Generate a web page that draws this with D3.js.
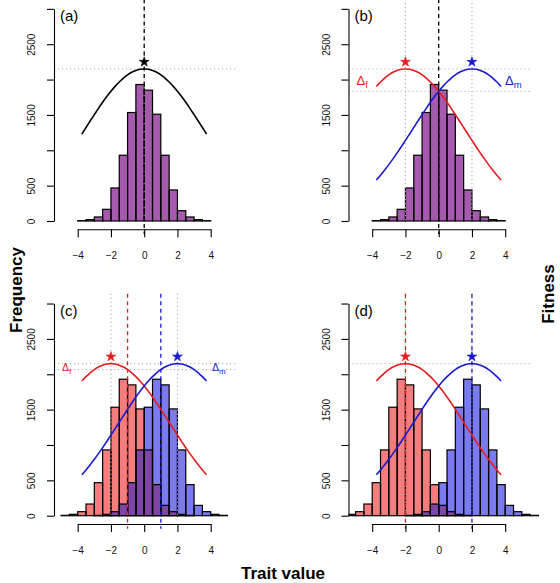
<!DOCTYPE html>
<html><head><meta charset="utf-8">
<script src="https://cdn.jsdelivr.net/npm/d3@7"></script>
<style>
body{margin:0;background:#fff}
svg{display:block}
text{font-family:"Liberation Sans",Arial,Helvetica,sans-serif}
</style>
</head><body><svg id="chart" width="560" height="583"></svg>
<script>
// ---------- data ----------
const binLeftEdges = [-4,-3.5,-3,-2.5,-2,-1.5,-1,-0.5,0,0.5,1,1.5,2,2.5,3,3.5];
const binWidth = 0.5;
const baseFrequency = [5,19,57,165,467,930,1534,1930,1850,1510,930,439,146,57,19,5];
const panelLabels = ["(a)","(b)","(c)","(d)"];
const femaleMean = [0,0,-1,-2];
const maleMean = [0,0,1,2];
const femaleOptimum = [0,-2,-2,-2];
const maleOptimum = [0,2,2,2];
const fitnessDistance = [0,0.25,0.5,0.75,1,1.25,1.5,1.75,2,2.25,2.5,2.75,3,3.25,3.5,3.75,4,4.25,4.5,4.75,5,5.25,5.5,5.75];
const fitnessProfile = [2150,2145,2129,2103,2066,2021,1966,1904,1834,1759,1678,1593,1504,1414,1322,1231,1140,1050,963,878,797,720,647,579];
const curveTrait = [-3.75,-3.5,-3.25,-3,-2.75,-2.5,-2.25,-2,-1.75,-1.5,-1.25,-1,-0.75,-0.5,-0.25,0,0.25,0.5,0.75,1,1.25,1.5,1.75,2,2.25,2.5,2.75,3,3.25,3.5,3.75];
const xTickValues = [-4,-2,0,2,4];
const yTickValues = [0,500,1000,1500,2000,2500,3000];
const yTickLabels = ["0","500","","1500","","2500",""];
const deltaSymbol = "\u0394";
const deltaSubs = [null, ["f","m"], ["f","m"], null];

// ---------- style ----------
const RED = "#e41e20", BLUE = "#1a1ad0";
const SINGLE_FILL = "#a65aae", FEMALE_FILL = "#f47e7e", MALE_FILL = "#7b7bef", OVERLAP_FILL = "#7d45a6";
const GUIDE = "#aaaaaa";

const svg = d3.select("#chart");

function fitnessAt(x, opt){
  const d = Math.abs(x - opt);
  const i = fitnessDistance.indexOf(Math.round(d*4)/4);
  return fitnessProfile[i];
}

for (let p = 0; p < 4; p++) {
  const col = p % 2, row = Math.floor(p / 2);
  const ox = col * 294.5, oy = row * 294.7;
  const x = d3.scaleLinear([-4, 4], [77.7 + ox, 210.7 + ox]);
  const y = d3.scaleLinear([0, 3000], [221 + oy, 8.84 + oy]);
  const axisX = 54 + ox;
  const g = svg.append("g");

  const clipId = "clip" + p;
  g.append("clipPath").attr("id", clipId).append("rect")
    .attr("x", axisX).attr("y", oy).attr("width", 250).attr("height", 290);

  const sameMean = femaleMean[p] === maleMean[p];
  const sameOpt = femaleOptimum[p] === maleOptimum[p];
  const shiftStep = Math.round((femaleMean[p] - maleMean[p]) / binWidth);

  const hVals = [fitnessProfile[0]];
  const dist = Math.abs(femaleMean[p] - femaleOptimum[p]);
  if (dist > 0) hVals.push(fitnessAt(femaleMean[p], femaleOptimum[p]));

  const bars = g.append("g").attr("clip-path", `url(#${clipId})`);
  function histFill(shift, fill) {
    bars.append("g").selectAll("rect").data(baseFrequency).join("rect")
      .attr("x", (d, i) => x(binLeftEdges[i] + shift))
      .attr("width", (d, i) => x(binLeftEdges[i] + shift + binWidth) - x(binLeftEdges[i] + shift))
      .attr("y", d => y(d)).attr("height", d => y(0) - y(d))
      .attr("fill", fill);
  }
  function histOutline(shift) {
    bars.append("g").selectAll("rect").data(baseFrequency).join("rect")
      .attr("x", (d, i) => x(binLeftEdges[i] + shift))
      .attr("width", (d, i) => x(binLeftEdges[i] + shift + binWidth) - x(binLeftEdges[i] + shift))
      .attr("y", d => y(d)).attr("height", d => y(0) - y(d))
      .attr("fill", "none").attr("stroke", "#000").attr("stroke-width", 1.2);
  }
  if (sameMean) {
    histFill(femaleMean[p], SINGLE_FILL);
    histOutline(femaleMean[p]);
  } else {
    histFill(femaleMean[p], FEMALE_FILL);
    histFill(maleMean[p], MALE_FILL);
    const ov = (d, i) => { const j = i + shiftStep; return (j >= 0 && j < baseFrequency.length) ? Math.min(d, baseFrequency[j]) : 0; };
    bars.append("g").selectAll("rect").data(baseFrequency).join("rect")
      .attr("x", (d, i) => x(binLeftEdges[i] + femaleMean[p]))
      .attr("width", (d, i) => x(binLeftEdges[i] + femaleMean[p] + binWidth) - x(binLeftEdges[i] + femaleMean[p]))
      .attr("y", (d, i) => y(ov(d, i)))
      .attr("height", (d, i) => y(0) - y(ov(d, i)))
      .attr("fill", OVERLAP_FILL);
    histOutline(femaleMean[p]);
    histOutline(maleMean[p]);
  }

  // horizontal guides
  g.selectAll(null).data(hVals).join("line")
    .attr("x1", axisX).attr("x2", x(5.5))
    .attr("y1", d => y(d)).attr("y2", d => y(d))
    .attr("stroke", GUIDE).attr("stroke-width", 1).attr("stroke-dasharray", "1.2,2.8");

  // vertical guides at optima
  const optima = Array.from(new Set([femaleOptimum[p], maleOptimum[p]]));
  const topY = oy - 1, botY = 221 + oy + 13;
  g.selectAll(null).data(optima).join("line")
    .attr("x1", d => x(d)).attr("x2", d => x(d))
    .attr("y1", topY).attr("y2", 221 + oy)
    .attr("stroke", GUIDE).attr("stroke-width", 1).attr("stroke-dasharray", "1.2,2.8");

  // dashed mean lines
  const means = sameMean ? [{v: femaleMean[p], c: "#000"}] : [{v: femaleMean[p], c: RED}, {v: maleMean[p], c: BLUE}];
  g.selectAll(null).data(means).join("line")
    .attr("x1", d => x(d.v)).attr("x2", d => x(d.v))
    .attr("y1", topY).attr("y2", botY)
    .attr("stroke", d => d.c).attr("stroke-width", 1.3).attr("stroke-dasharray", "4,3.5");

  // fitness curves
  const curves = sameOpt ? [{opt: femaleOptimum[p], c: "#000"}] : [{opt: femaleOptimum[p], c: RED}, {opt: maleOptimum[p], c: BLUE}];
  const line = d3.line().curve(d3.curveCatmullRom);
  curves.forEach(cv => {
    g.append("path")
      .attr("d", line(curveTrait.map(t => [x(t), y(fitnessAt(t, cv.opt))])))
      .attr("fill", "none").attr("stroke", cv.c).attr("stroke-width", 1.6);
    g.append("path")
      .attr("d", d3.symbol(d3.symbolStar, 30)())
      .attr("transform", `translate(${x(cv.opt)},${y(fitnessProfile[0]) - 7})`)
      .attr("fill", cv.c).attr("stroke", cv.c).attr("stroke-width", 0.6);
  });

  // delta labels
  if (deltaSubs[p]) {
    const big = row === 0;
    const fs = big ? 13 : 10.5, sfs = big ? 9.5 : 8;
    const by = big ? 221 + oy - 136 : 221 + oy - 144.5;
    const tf = g.append("text").attr("x", axisX + 8).attr("y", by).attr("fill", RED).attr("font-size", fs);
    tf.append("tspan").text(deltaSymbol);
    tf.append("tspan").attr("dy", 3).attr("font-size", sfs).text(deltaSubs[p][0]);
    const tm = g.append("text").attr("x", x(3.75) + (big ? 4 : 5.5)).attr("y", by).attr("fill", BLUE).attr("font-size", fs);
    tm.append("tspan").text(deltaSymbol);
    tm.append("tspan").attr("dy", 3).attr("font-size", sfs).text(deltaSubs[p][1]);
  }

  // panel label
  g.append("text").attr("x", 60 + ox).attr("y", 21 + oy).attr("font-size", 15).text(panelLabels[p]);

  // axes
  const ya = g.append("g").attr("transform", `translate(${axisX},0)`)
    .call(d3.axisLeft(y).tickValues(yTickValues).tickSize(7).tickSizeOuter(0).tickFormat((d, i) => yTickLabels[i]));
  ya.selectAll("text").attr("x", null).attr("dy", null).attr("text-anchor", "middle")
    .attr("transform", "translate(-19,0) rotate(-90)")
    .attr("font-size", 10).attr("font-family", "Liberation Sans, Arial, sans-serif").attr("fill", "#111");
  ya.attr("font-family", null);
  ya.selectAll("path,line").attr("stroke-width", 1.1);

  const xa = g.append("g").attr("transform", `translate(0,${221 + oy + 8.3})`)
    .call(d3.axisBottom(x).tickValues(xTickValues).tickSize(8).tickSizeOuter(0)
      .tickFormat(d => d < 0 ? "\u2212" + Math.abs(d) : String(d)));
  xa.selectAll("text").attr("y", 23).attr("font-size", 10).attr("font-family", "Liberation Sans, Arial, sans-serif").attr("fill", "#111");
  xa.attr("font-family", null);
  xa.selectAll("path,line").attr("stroke-width", 1.1);
}

// titles
svg.append("text").attr("transform", "translate(22,290) rotate(-90)").attr("text-anchor", "middle")
  .attr("font-weight", "bold").attr("font-size", 17).text("Frequency");
svg.append("text").attr("transform", "translate(554,294) rotate(-90)").attr("text-anchor", "middle")
  .attr("font-weight", "bold").attr("font-size", 17).text("Fitness");
svg.append("text").attr("x", 283).attr("y", 579).attr("text-anchor", "middle")
  .attr("font-weight", "bold").attr("font-size", 17).text("Trait value");
</script>
</body></html>
